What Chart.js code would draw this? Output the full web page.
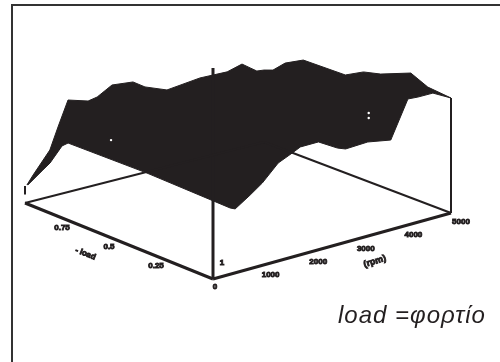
<!DOCTYPE html>
<html>
<head>
<meta charset="utf-8">
<title>load surface</title>
<style>
  html, body { margin: 0; padding: 0; background: #fff; }
  canvas { display: block; }
</style>
<script src="https://cdn.jsdelivr.net/npm/chart.js@4/dist/chart.umd.min.js"></script>
</head>
<body>
<canvas id="surface-chart" width="500" height="362"></canvas>
<script>
// outline of the surface, walked round: rear edges, then front edges
const edgeRpm = [40, 170, 520, 690, 900, 1320, 1510, 1820, 2260, 2510, 2970, 3660, 4230, 4540, 4710, 4850, 5000,
  5000, 5000, 5000, 5000, 5000, 5000, 5000, 5000, 5000,
  4620, 4305, 4095, 3735, 3250, 2785, 2615, 2215, 1835, 1665, 1370, 1035, 780, 465,
  465, 465, 465, 465, 465, 375, 60];
const edgeLoad = [1, 1, 1, 1, 1, 1, 1, 1, 1, 1, 1, 1, 1, 1, 1, 1, 1,
  0.952, 0.887, 0.79, 0.565, 0.468, 0.376, 0.215, 0.124, 0,
  0, 0, 0, 0, 0, 0, 0, 0, 0, 0, 0, 0, 0, 0,
  0.027, 0.469, 0.889, 0.921, 0.985, 1, 1];
const edgeZ = [0.083, 0.123, 0.221, 0.32, 0.436, 0.407, 0.415, 0.454, 0.443, 0.405, 0.364, 0.381, 0.377, 0.396, 0.368, 0.345, 0.341,
  0.357, 0.412, 0.459, 0.464, 0.511, 0.532, 0.591, 0.555, 0.545,
  0.592, 0.593, 0.597, 0.425, 0.446, 0.442, 0.457, 0.511, 0.511, 0.493, 0.464, 0.39, 0.349, 0.303,
  0.298, 0.305, 0.297, 0.272, 0.168, 0.135, 0.082];

// pale specks showing through the surface
const speckRpm = [1800, 5000, 5000];
const speckLoad = [1, 0.44, 0.44];
const speckZ = [0.194, 0.326, 0.302];

const rpmTicks = [1000, 2000, 3000, 4000, 5000];
const loadTicks = [0.25, 0.5, 0.75];
const loadTickLabels = ['0.25', '0.5', '0.75'];

// the floor corners as drawn on the page
const frontCorner = [213, 279];
const rpmCorner = [451, 213];
const loadCorner = [25, 203];
const backCorner = [264, 142];
const zHeight = 211;

function project(rpm, load, z) {
  const r = rpm / 5000;
  const px = (1 - r) * (1 - load) * frontCorner[0] + r * (1 - load) * rpmCorner[0] + (1 - r) * load * loadCorner[0] + r * load * backCorner[0];
  const py = (1 - r) * (1 - load) * frontCorner[1] + r * (1 - load) * rpmCorner[1] + (1 - r) * load * loadCorner[1] + r * load * backCorner[1];
  return { x: px, y: py - z * zHeight };
}

function line(points, width) {
  return {
    data: points.map(p => project(p[0], p[1], p[2])),
    showLine: true,
    borderColor: '#231f20',
    borderWidth: width,
    pointRadius: 0,
    fill: false,
    tension: 0,
  };
}

const surfacePoints = edgeRpm.map((r, i) => project(r, edgeLoad[i], edgeZ[i]));
const speckPoints = speckRpm.map((r, i) => project(r, speckLoad[i], speckZ[i]));

const labelsPlugin = {
  id: 'labels',
  beforeDraw(chart) {
    const c = chart.ctx;
    c.save();
    c.strokeStyle = '#333';
    c.lineWidth = 2;
    c.beginPath();
    c.moveTo(12, 362);
    c.lineTo(12, 5);
    c.lineTo(500, 5);
    c.stroke();
    c.restore();
  },
  afterDatasetsDraw(chart) {
    const c = chart.ctx;
    const sx = chart.scales.x;
    const sy = chart.scales.y;
    const put = (text, p, dx, dy, angle) => {
      c.save();
      c.translate(sx.getPixelForValue(p.x) + dx, sy.getPixelForValue(p.y) + dy);
      c.rotate(angle || 0);
      c.fillText(text, 0, 0);
      c.strokeText(text, 0, 0);
      c.restore();
    };
    c.save();
    c.fillStyle = '#231f20';
    c.strokeStyle = '#231f20';
    c.lineWidth = 0.9;
    c.textAlign = 'center';
    c.textBaseline = 'middle';
    c.font = 'bold 8px "Liberation Sans"';
    rpmTicks.forEach(t => put(String(t), project(t, 0, 0), 10, 9));
    loadTicks.forEach((t, i) => put(loadTickLabels[i], project(0, t, 0), -10, 6));
    put('0', project(0, 0, 0), 2, 8);
    put('1', project(0, 0, 0), 9, -16);
    put('- load', project(0, 0.7, 0), 4, 28, 0.38);
    c.font = 'bold 9px "Liberation Sans"';
    put('(rpm)', project(3000, 0, 0), 19, 22, -0.3);
    c.restore();

    c.save();
    c.fillStyle = '#231f20';
    c.font = 'italic 24px "Liberation Sans"';
    c.letterSpacing = '1px';
    c.textAlign = 'left';
    c.textBaseline = 'alphabetic';
    c.fillText('load =φορτίο', sx.getPixelForValue(338), sy.getPixelForValue(323));
    c.restore();
  },
};

const config = {
  type: 'scatter',
  data: {
    datasets: [
      line([[0, 1, 0], [5000, 1, 0]], 2),
      line([[5000, 0, 0], [5000, 1, 0]], 2),
      line([[0, 0, 0], [0, 0, 1]], 3),
      line([[5000, 0, 0], [5000, 0, 0.545]], 2),
      {
        data: surfacePoints,
        showLine: true,
        borderColor: '#231f20',
        backgroundColor: '#231f20',
        borderWidth: 1,
        borderJoinStyle: 'round',
        pointRadius: 0,
        fill: 'shape',
        tension: 0,
        order: 1,
      },
      {
        data: speckPoints,
        showLine: false,
        backgroundColor: '#fff',
        borderWidth: 0,
        pointRadius: 1.2,
        order: 0,
      },
      line([[0, 1, 0], [0, 0, 0]], 3),
      line([[0, 0, 0], [5000, 0, 0]], 3),
      line([[0, 1, 0.04], [0, 1, 0.08]], 2),
    ],
  },
  options: {
    responsive: false,
    animation: false,
    layout: { padding: 0, autoPadding: false },
    plugins: { legend: { display: false }, tooltip: { enabled: false } },
    scales: {
      x: { type: 'linear', min: 0, max: 500, display: false },
      y: { type: 'linear', min: 0, max: 362, reverse: true, display: false },
    },
  },
  plugins: [labelsPlugin],
};

const surfaceChart = new Chart(document.querySelector('#surface-chart'), config);
</script>
</body>
</html>
